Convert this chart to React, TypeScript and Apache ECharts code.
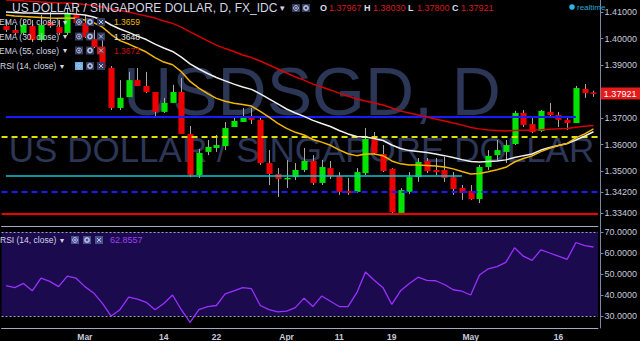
import React, { useEffect, useRef } from 'react';
import * as echarts from 'echarts';

const dates = ['2016-02-17','2016-02-18','2016-02-19','2016-02-22','2016-02-23','2016-02-24','2016-02-25','2016-02-26','2016-02-29',
'2016-03-01','2016-03-02','2016-03-03','2016-03-04','2016-03-07','2016-03-08','2016-03-09','2016-03-10','2016-03-11','2016-03-14','2016-03-15','2016-03-16','2016-03-17','2016-03-18','2016-03-21','2016-03-22','2016-03-23','2016-03-24','2016-03-25','2016-03-28','2016-03-29','2016-03-30','2016-03-31',
'2016-04-01','2016-04-04','2016-04-05','2016-04-06','2016-04-07','2016-04-08','2016-04-11','2016-04-12','2016-04-13','2016-04-14','2016-04-15','2016-04-18','2016-04-19','2016-04-20','2016-04-21','2016-04-22','2016-04-25','2016-04-26','2016-04-27','2016-04-28','2016-04-29',
'2016-05-02','2016-05-03','2016-05-04','2016-05-05','2016-05-06','2016-05-09','2016-05-10','2016-05-11','2016-05-12','2016-05-13','2016-05-16','2016-05-17','2016-05-18','2016-05-19','2016-05-20'];

const opens = [1.4047,1.4032,1.4021,1.4047,1.3994,1.4062,1.4043,1.4021,1.4092,1.4059,
1.3998,1.3968,1.3889,1.3738,1.3779,1.3843,1.3821,1.3798,1.3723,1.3757,
1.3798,1.3640,1.3485,1.3572,1.3587,1.3594,1.3666,1.3685,1.3708,1.3693,
1.3530,1.3489,1.3470,1.3477,1.3504,1.3538,1.3455,1.3511,1.3481,1.3425,
1.3421,1.3492,1.3621,1.3564,1.3508,1.3342,1.3421,1.3477,1.3538,1.3504,
1.3504,1.3477,1.3436,1.3425,1.3394,1.3515,1.3560,1.3572,1.3602,1.3719,
1.3677,1.3651,1.3723,1.3711,1.3693,1.3681,1.3810,1.37967];

const closes = [1.4032,1.4021,1.4051,1.3994,1.4051,1.4047,1.4021,1.4096,1.4059,1.4006,
1.3968,1.3889,1.3738,1.3776,1.3843,1.3821,1.3798,1.3723,1.3757,1.3798,
1.3640,1.3485,1.3568,1.3591,1.3598,1.3662,1.3689,1.3704,1.3693,1.3530,
1.3489,1.3470,1.3474,1.3504,1.3538,1.3455,1.3515,1.3481,1.3421,1.3417,
1.3496,1.3621,1.3568,1.3500,1.3345,1.3428,1.3477,1.3534,1.3500,1.3496,
1.3474,1.3432,1.3417,1.3394,1.3515,1.3557,1.3579,1.3598,1.3719,1.3674,
1.3647,1.3727,1.3711,1.3693,1.3681,1.3813,1.3794,1.37921];

const lows = [1.4025,1.4013,1.4013,1.3987,1.3987,1.4040,1.4013,1.4013,1.4051,1.4002,
1.3964,1.3881,1.3730,1.3730,1.3779,1.3821,1.3794,1.3700,1.3719,1.3757,
1.3640,1.3477,1.3474,1.3560,1.3572,1.3579,1.3666,1.3685,1.3677,1.3523,
1.3447,1.3402,1.3436,1.3466,1.3496,1.3447,1.3447,1.3470,1.3410,1.3410,
1.3417,1.3485,1.3564,1.3496,1.3338,1.3338,1.3413,1.3459,1.3492,1.3485,
1.3459,1.3410,1.3391,1.3391,1.3379,1.3504,1.3541,1.3530,1.3598,1.3666,
1.3643,1.3647,1.3700,1.3666,1.3655,1.3681,1.3776,1.37800];

const highs = [1.4070,1.4051,1.4070,1.4070,1.4089,1.4100,1.4070,1.4115,1.4115,1.4089,
1.4032,1.3994,1.3896,1.3843,1.3874,1.3889,1.3874,1.3798,1.3776,1.3825,
1.3851,1.3670,1.3583,1.3617,1.3636,1.3685,1.3704,1.3738,1.3738,1.3700,
1.3579,1.3511,1.3541,1.3530,1.3587,1.3560,1.3542,1.3538,1.3496,1.3474,
1.3511,1.3662,1.3647,1.3598,1.3511,1.3436,1.3496,1.3549,1.3549,1.3549,
1.3553,1.3496,1.3447,1.3447,1.3523,1.3579,1.3617,1.3617,1.3727,1.3730,
1.3704,1.3730,1.3757,1.3723,1.3700,1.3821,1.3828,1.38030];

const ema20 = [1.4089,1.4085,1.4083,1.4081,1.4079,1.4077,1.4076,1.4077,1.4076,1.4070,
1.4060,1.4043,1.4015,1.3992,1.3979,1.3964,1.3949,1.3928,1.3911,1.3901,
1.3875,1.3838,1.3813,1.3792,1.3774,1.3763,1.3756,1.3751,1.3745,1.3725,
1.3703,1.3680,1.3661,1.3646,1.3636,1.3619,1.3609,1.3597,1.3580,1.3565,
1.3558,1.3564,1.3564,1.3558,1.3538,1.3527,1.3523,1.3523,1.3521,1.3519,
1.3515,1.3508,1.3498,1.3489,1.3491,1.3497,1.3505,1.3514,1.3534,1.3547,
1.3557,1.3573,1.3586,1.3596,1.3604,1.3625,1.3640,1.3659];

const ema30 = [1.4100,1.4098,1.4096,1.4096,1.4094,1.4094,1.4094,1.4094,1.4092,1.4089,
1.4081,1.4070,1.4051,1.4036,1.4023,1.4009,1.3996,1.3979,1.3964,1.3951,
1.3930,1.3904,1.3885,1.3868,1.3853,1.3840,1.3828,1.3817,1.3808,1.3791,
1.3772,1.3753,1.3734,1.3719,1.3706,1.3691,1.3679,1.3668,1.3653,1.3640,
1.3630,1.3628,1.3623,1.3615,1.3598,1.3585,1.3577,1.3574,1.3570,1.3564,
1.3558,1.3551,1.3543,1.3536,1.3534,1.3536,1.3538,1.3542,1.3551,1.3558,
1.3564,1.3579,1.3589,1.3596,1.3604,1.3617,1.3632,1.3648];

const ema55 = [1.4145,1.4143,1.4142,1.4140,1.4138,1.4136,1.4134,1.4134,1.4132,1.4128,
1.4125,1.4119,1.4111,1.4106,1.4100,1.4092,1.4085,1.4077,1.4066,1.4057,
1.4043,1.4025,1.4008,1.3991,1.3975,1.3962,1.3951,1.3938,1.3928,1.3915,
1.3900,1.3885,1.3870,1.3855,1.3843,1.3828,1.3817,1.3806,1.3794,1.3783,
1.3772,1.3764,1.3757,1.3749,1.3738,1.3726,1.3719,1.3711,1.3704,1.3696,
1.3689,1.3681,1.3674,1.3664,1.3659,1.3655,1.3653,1.3651,1.3653,1.3654,
1.3655,1.3656,1.3658,1.3659,1.3660,1.3665,1.3669,1.3672];

const rsi14 = [44.5,43.5,45.5,42,48,46.5,44,49,48,44,
41,36,30,33,39,38,36.5,33,36,40,
33,27,33,34.5,35,40.5,42,43.5,43,35,
33,32,32.3,34,38.5,34.5,39.5,37,34.5,34.5,
41,51,47,43.5,35.5,42,45.5,48.5,47,46.8,
45,42.5,41.8,40,49.5,52.5,53.5,55.5,62.5,58.5,
56.5,61.5,60,58.5,57,65,63.5,62.86];

const priceTicks = [1.41, 1.40, 1.39, 1.37, 1.36, 1.35, 1.342, 1.334];
const rsiTicks = [30, 40, 50, 60, 70];
const dateTickText: Record<string, string> = {
  '2016-03-01': 'Mar', '2016-03-14': '14', '2016-03-22': '22', '2016-04-01': 'Apr',
  '2016-04-11': '11', '2016-04-19': '19', '2016-05-02': 'May', '2016-05-16': '16',
};

const levelBlue = 1.3704;
const levelBlueEnd = 65;
const levelYellowDash = 1.3629;
const levelCyan = 1.3483;
const levelCyanEnd = 52;
const levelBlueDash = 1.342;
const levelRed = 1.334;
const lastPrice = 1.37921;
const ohlcLabels = ['O', 'H', 'L', 'C'];
const ohlcValues = ['1.37967', '1.38030', '1.37800', '1.37921'];
const emaLegend = [
  { name: 'EMA (20, close)', value: '1.3659', color: '#f0b90a' },
  { name: 'EMA (30, close)', value: '1.3648', color: '#e8e8e8' },
  { name: 'EMA (55, close)', value: '1.3672', color: '#cc1111' },
];
const rsiLegendValue = '62.8557';

const FONT = '"Liberation Sans", Arial, Helvetica, sans-serif';

function txt(x: number, y: number, text: string, fill: string, size: number, extra: any = {}, z = 100) {
  return {
    type: 'text', x, y, z, silent: true,
    style: { text, fill, fontSize: size, fontFamily: FONT, verticalAlign: 'middle', align: 'left', ...extra },
  };
}

function icon(x: number, y: number, kind: string, bg: string) {
  const s = 8;
  const cx = x + s / 2, cy = y + s / 2;
  const fg = '#b8c0e4';
  const ch: any[] = [{ type: 'rect', z: 100, shape: { x, y, width: s, height: s }, style: { fill: bg } }];
  if (kind === 'eye') {
    ch.push({ type: 'circle', z: 101, shape: { cx, cy, r: 2.4 }, style: { fill: 'none', stroke: fg, lineWidth: 1 } });
    ch.push({ type: 'circle', z: 101, shape: { cx, cy, r: 0.9 }, style: { fill: fg } });
  } else if (kind === 'gear') {
    ch.push({ type: 'circle', z: 101, shape: { cx, cy, r: 2.1 }, style: { fill: 'none', stroke: fg, lineWidth: 1.6 } });
  } else {
    ch.push({ type: 'line', z: 101, shape: { x1: x + 2, y1: y + 2, x2: x + s - 2, y2: y + s - 2 }, style: { stroke: fg, lineWidth: 1 } });
    ch.push({ type: 'line', z: 101, shape: { x1: x + s - 2, y1: y + 2, x2: x + 2, y2: y + s - 2 }, style: { stroke: fg, lineWidth: 1 } });
  }
  return { type: 'group', silent: true, children: ch };
}

export default function App() {
  const ref = useRef<HTMLDivElement>(null);
  useEffect(() => {
    const chart = echarts.init(ref.current as HTMLDivElement, null, { renderer: 'svg' });
    const ohlc = dates.map((d, i) => [i, opens[i], closes[i], lows[i], highs[i]]);
    const axisColor = '#7d87aa';
    const labelColor = '#c6cadb';
    const textColor = '#d2d5e2';

    const graphics: any[] = [
      txt(312, 90.5, 'USDSGD, D', '#2c3656', 68, { align: 'center', lineHeight: 52 }, 0),
      txt(301.5, 149.5, 'US DOLLAR / SINGAPORE DOLLAR', '#2c3656', 35, { align: 'center', lineHeight: 28 }, 0),
      txt(12, 8, 'US DOLLAR / SINGAPORE DOLLAR, D, FX_IDC', textColor, 12),
      txt(280, 8, '▾', textColor, 9),
      icon(292, 4, 'eye', '#363c5e'),
      icon(302, 4, 'gear', '#363c5e'),
      { type: 'circle', z: 100, silent: true, shape: { cx: 572, cy: 7, r: 2.8 }, style: { fill: '#2bb6ea' } },
      txt(577, 7, 'realtime', '#2fa6d2', 8),
    ];
    const ohlcX = [320, 364, 408, 452];
    ohlcLabels.forEach((l, k) => {
      graphics.push(txt(ohlcX[k], 8, l, '#dcdee8', 9, { fontWeight: 'bold' }));
      graphics.push(txt(ohlcX[k] + 9, 8, ohlcValues[k], '#d41a1a', 9));
    });
    const rowsY = [22, 36.5, 50.5];
    emaLegend.forEach((e, k) => {
      const y = rowsY[k];
      graphics.push(txt(-1, y, e.name, textColor, 8.5));
      graphics.push(txt(63, y, '▾', textColor, 8));
      graphics.push(icon(75, y - 4, 'eye', '#363c5e'));
      graphics.push(icon(86, y - 4, 'gear', '#363c5e'));
      graphics.push(icon(97, y - 4, 'x', k === 2 ? '#b81c1c' : '#363c5e'));
      graphics.push(txt(114, y, e.value, e.color, 8.5));
    });
    graphics.push(txt(0, 66, 'RSI (14, close)', textColor, 8.5));
    graphics.push(txt(60, 66, '▾', textColor, 8));
    graphics.push(icon(75, 62, 'eye', '#62aee8'));
    graphics.push(icon(86, 62, 'gear', '#363c5e'));
    graphics.push(icon(97, 62, 'x', '#363c5e'));
    graphics.push(txt(0, 240, 'RSI (14, close)', textColor, 8.5));
    graphics.push(txt(60, 240, '▾', textColor, 8));
    graphics.push(icon(71, 236, 'eye', '#4a5290'));
    graphics.push(icon(83, 236, 'gear', '#4a5290'));
    graphics.push(icon(95, 236, 'x', '#4a5290'));
    graphics.push(txt(110, 240, rsiLegendValue, '#a040f0', 9));

    const emaLine = (name: string, data: number[], color: string, extra: any = {}) => ({
      name, type: 'line', xAxisIndex: 0, yAxisIndex: 0, data, symbol: 'none', showSymbol: false,
      lineStyle: { color, width: 1.5 }, z: 5, silent: true, ...extra,
    });

    const option: any = {
      animation: false,
      backgroundColor: '#000000',
      grid: [
        { left: 1.56, width: 603.84, top: 0, height: 226 },
        { left: 1.56, width: 603.84, top: 226, height: 102 },
      ],
      xAxis: [
        {
          type: 'category', gridIndex: 0, data: dates, boundaryGap: true,
          axisLine: { show: true, lineStyle: { color: '#a3aac4', width: 1 } },
          axisTick: { show: false }, axisLabel: { show: false }, splitLine: { show: false },
        },
        {
          type: 'category', gridIndex: 1, data: dates, boundaryGap: true,
          axisLine: { show: true, lineStyle: { color: '#a3aac4', width: 1 } },
          axisTick: { show: false },
          axisLabel: {
            show: true, margin: 4, color: labelColor, fontSize: 8.5, fontWeight: 'bold', fontFamily: FONT,
            interval: (idx: number, val: string) => !!dateTickText[val],
            formatter: (val: string) => dateTickText[val] || '',
          },
          splitLine: { show: false },
        },
      ],
      yAxis: [
        {
          type: 'value', gridIndex: 0, position: 'right', offset: 2.6, min: 1.32925, max: 1.41453,
          axisLine: { show: true, lineStyle: { color: axisColor } },
          axisTick: { show: true, length: 3, customValues: priceTicks, lineStyle: { color: axisColor } },
          axisLabel: { customValues: priceTicks, formatter: (v: number) => v.toFixed(5), color: labelColor, fontSize: 9, margin: 4, fontFamily: FONT },
          splitLine: { show: false },
        },
        {
          type: 'value', gridIndex: 1, position: 'right', offset: 2.6, min: 24.29, max: 72.86,
          axisLine: { show: true, lineStyle: { color: axisColor } },
          axisTick: { show: true, length: 3, customValues: rsiTicks, lineStyle: { color: axisColor } },
          axisLabel: { customValues: rsiTicks, formatter: (v: number) => v.toFixed(4), color: labelColor, fontSize: 9, margin: 4, fontFamily: FONT },
          splitLine: { show: false },
        },
      ],
      graphic: { elements: graphics },
      series: [
        {
          name: 'USDSGD', type: 'custom', xAxisIndex: 0, yAxisIndex: 0, data: ohlc, z: 3, clip: true, silent: true,
          encode: { x: 0, y: [1, 2, 3, 4] },
          renderItem: (params: any, api: any) => {
            const i = api.value(0);
            const o = api.value(1), c = api.value(2), l = api.value(3), h = api.value(4);
            const pO = api.coord([i, o]);
            const pC = api.coord([i, c]);
            const pL = api.coord([i, l]);
            const pH = api.coord([i, h]);
            const bw = api.size([1, 0])[0] * 0.7;
            const xc = Math.round(pO[0]) + 0.5;
            const top = Math.min(pO[1], pC[1]);
            const hgt = Math.max(Math.abs(pO[1] - pC[1]), 1.5);
            const up = c >= o;
            return {
              type: 'group',
              children: [
                { type: 'line', shape: { x1: xc, y1: pH[1], x2: xc, y2: pL[1] }, style: { stroke: '#a8a8a8', lineWidth: 1 } },
                { type: 'rect', shape: { x: xc - bw / 2, y: top, width: bw, height: hgt }, style: { fill: up ? '#00e400' : '#ee0000' } },
              ],
            };
          },
        },
        emaLine('EMA55', ema55, '#d80000', {
          markLine: {
            silent: true, symbol: ['none', 'none'], animation: false, precision: 5,
            label: { show: false },
            data: [
              [{ coord: [0, levelBlue], lineStyle: { color: '#1a1aff', width: 2, type: 'solid' } }, { coord: [levelBlueEnd, levelBlue] }],
              { yAxis: levelYellowDash, lineStyle: { color: '#e0e000', width: 2, type: [6, 4] } },
              [{ coord: [0, levelCyan], lineStyle: { color: '#10c4cc', width: 1.5, type: 'solid' } }, { coord: [levelCyanEnd, levelCyan] }],
              { yAxis: levelBlueDash, lineStyle: { color: '#1a1aff', width: 2, type: [6, 4] } },
              { yAxis: levelRed, lineStyle: { color: '#ee0000', width: 2, type: 'solid' } },
              {
                yAxis: lastPrice, lineStyle: { color: 'rgba(0,0,0,0)', width: 0 },
                label: {
                  show: true, position: 'end', distance: 3, formatter: () => lastPrice.toFixed(5),
                  color: '#ffffff', backgroundColor: '#e51b1b', padding: [2, 4, 1, 3], fontSize: 9, fontFamily: FONT,
                },
              },
            ],
          },
        }),
        emaLine('EMA30', ema30, '#f0f0f0'),
        emaLine('EMA20', ema20, '#f2b705'),
        {
          name: 'RSI', type: 'line', xAxisIndex: 1, yAxisIndex: 1, data: rsi14, symbol: 'none', showSymbol: false,
          lineStyle: { color: '#9a30ff', width: 1.3 }, z: 5, silent: true,
          markArea: { silent: true, itemStyle: { color: '#1c0a4f' }, data: [[{ yAxis: 30 }, { yAxis: 70 }]] },
          markLine: {
            silent: true, symbol: ['none', 'none'], label: { show: false }, precision: 4,
            lineStyle: { color: '#a0a0b8', width: 1, type: [2, 2] },
            data: [{ yAxis: 70 }, { yAxis: 30 }],
          },
        },
      ],
    };
    chart.setOption(option);
    return () => chart.dispose();
  }, []);
  return <div ref={ref} style={{ position: 'absolute', left: 0, top: 0, width: 640, height: 341, background: '#000' }} />;
}
